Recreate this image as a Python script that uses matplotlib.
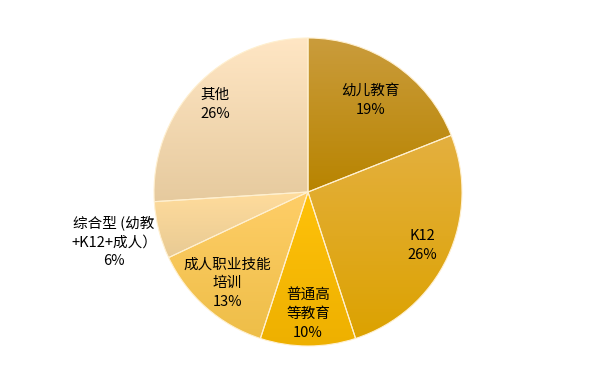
import numpy as np
import matplotlib
matplotlib.use("Agg")
import matplotlib.pyplot as plt
from matplotlib.colors import LinearSegmentedColormap

plt.rcParams['font.family'] = ['Noto Sans CJK SC', 'DejaVu Sans']

# data
labels = ['幼儿教育', 'K12', '普通高\n等教育', '成人职业技能\n培训', '综合型 (幼教\n+K12+成人）', '其他']
shares = [19, 26, 10, 13, 6, 26]

# styling
top_colors = ['#CA9C3C', '#E4B040', '#FFC20A', '#FFCE68', '#FFDC9C', '#FFE6C4']
bot_colors = ['#B88400', '#DCA200', '#EEB000', '#EEBE48', '#E8CA94', '#E6CA9E']
label_dist = [0.72, 0.82, 0.79, 0.79, 1.30, 0.83]

W, H = 616, 387
fig = plt.figure(figsize=(W / 100, H / 100), dpi=100)
ax = fig.add_axes([0, 0, 1, 1])

cx, cy, r = 308, H - 192, 154

wedges, _ = ax.pie(shares, startangle=90, counterclock=False, center=(cx, cy),
                   radius=r, frame=True,
                   wedgeprops=dict(edgecolor='#FFF0D0', linewidth=0.8))

# vertical gradient inside each slice
grad = np.linspace(0, 1, 256).reshape(-1, 1)
for w, c0, c1 in zip(wedges, top_colors, bot_colors):
    w.set_facecolor('none')
    bb = w.get_path().get_extents(w.get_patch_transform())
    cmap = LinearSegmentedColormap.from_list('g', [c1, c0])
    im = ax.imshow(grad, cmap=cmap, origin='lower', aspect='auto',
                   extent=[bb.x0, bb.x1, bb.y0, bb.y1], zorder=0.5)
    im.set_clip_path(w)

ax.set_xlim(0, W)
ax.set_ylim(0, H)
ax.set_aspect('equal')
ax.axis('off')

# labels
start = 90
for lab, s, d in zip(labels, shares, label_dist):
    mid = np.deg2rad(start - s / 2 * 3.6)
    start -= s * 3.6
    x = cx + d * r * np.cos(mid)
    y = cy + d * r * np.sin(mid)
    ax.text(x, y, lab + '\n' + f'{s}%', ha='center', va='center',
            fontsize=10.5, color='black', linespacing=1.45, zorder=5)

fig.savefig('out.png', dpi=100)
